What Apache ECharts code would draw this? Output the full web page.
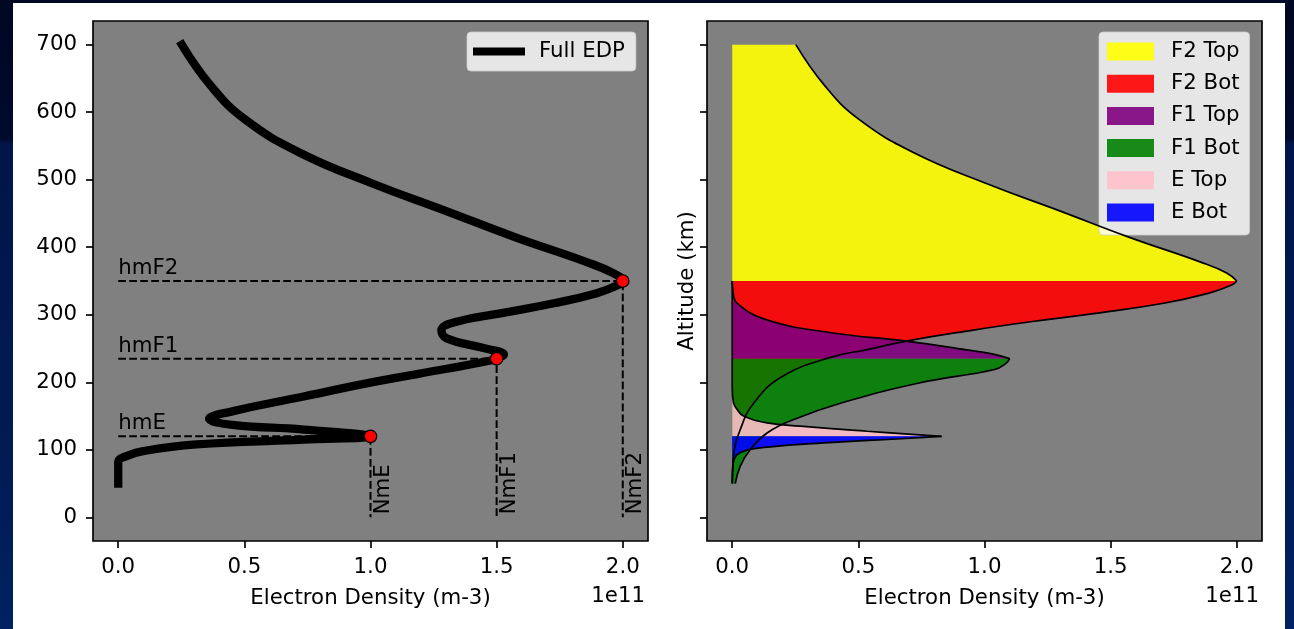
<!DOCTYPE html>
<html><head><meta charset="utf-8">
<script src="https://cdn.jsdelivr.net/npm/echarts@6/dist/echarts.min.js"></script>
<style>
html,body{margin:0;padding:0;width:1294px;height:629px;overflow:hidden;}
body{background:linear-gradient(to bottom,#000722 0%,#000a2c 22%,#00164a 23%,#001a52 70%,#002262 100%);}
#paper{position:absolute;left:13px;top:3px;width:1272px;height:626px;background:#fff;}
#chart{position:absolute;left:0;top:0;width:1294px;height:629px;}
</style></head><body><div id="paper"></div><div id="chart"></div>
<script>
// ---- data (density in units of 1e11 m-3, altitude in km) ----
const densityTicks = [0, 0.5, 1.0, 1.5, 2.0];
const altitudeTicks = [0, 100, 200, 300, 400, 500, 600, 700];
const peakLabels = ['E', 'F1', 'F2'];
const peakHeights = [120, 235, 350];
const peakDensities = [1.0, 1.5, 2.0];

const fullAlt = [50, 82, 90, 98, 108, 115, 120, 130, 137, 146, 157, 179, 201, 220, 233, 235, 241, 251, 265, 277, 290, 302, 317, 332, 344, 350, 362, 378, 415, 455, 494, 540, 590, 640, 700];
const fullNe  = [0, 0, 0.027, 0.098, 0.31, 0.735, 1.0, 0.735, 0.452, 0.36, 0.452, 0.735, 1.019, 1.302, 1.486, 1.5, 1.529, 1.444, 1.302, 1.281, 1.345, 1.515, 1.727, 1.897, 1.982, 2.0, 1.96, 1.857, 1.572, 1.29, 1.01, 0.72, 0.50, 0.365, 0.252];

const f2TopAlt = [350, 362, 378, 415, 455, 494, 540, 590, 640, 700];
const f2TopNe  = [2.0, 1.96, 1.857, 1.572, 1.29, 1.01, 0.72, 0.50, 0.365, 0.252];
const f2BotAlt = [50, 90, 130, 169, 209, 238, 248, 261, 277, 290, 302, 317, 332, 344, 350];
const f2BotNe  = [0, 0.005, 0.032, 0.085, 0.20, 0.40, 0.53, 0.69, 0.95, 1.19, 1.44, 1.71, 1.89, 1.98, 2.0];
const f1TopAlt = [235, 242, 248, 261, 273, 292, 317, 335, 350];
const f1TopNe  = [1.10, 1.03, 0.93, 0.69, 0.40, 0.14, 0.02, 0.003, 0];
const f1BotAlt = [50, 76, 100, 125, 145, 169, 199, 219, 228, 235];
const f1BotNe  = [0.012, 0.032, 0.071, 0.138, 0.244, 0.429, 0.741, 1.04, 1.085, 1.10];
const eTopAlt = [120, 127.5, 135, 140, 150, 160, 170, 190, 350];
const eTopNe  = [0.83, 0.535, 0.27, 0.138, 0.045, 0.019, 0.005, 0, 0];
const eBotAlt = [50, 80, 96, 104, 111, 116, 120];
const eBotNe  = [0, 0.004, 0.032, 0.14, 0.40, 0.65, 0.83];

const layerNames = ['F2 Top', 'F2 Bot', 'F1 Top', 'F1 Bot', 'E Top', 'E Bot'];
const layerColors = ['rgba(255,255,0,0.9)', 'rgba(255,0,0,0.9)', 'rgba(128,0,128,0.9)', 'rgba(0,128,0,0.9)', 'rgba(255,192,203,0.9)', 'rgba(0,0,255,0.9)'];
const layerAlts = [f2TopAlt, f2BotAlt, f1TopAlt, f1BotAlt, eTopAlt, eBotAlt];
const layerNes = [f2TopNe, f2BotNe, f1TopNe, f1BotNe, eTopNe, eBotNe];

// ---- chart ----
const FONT = 'DejaVu Sans';
const FS = 21.3;
const pairs = (alts, nes) => alts.map((a, i) => [nes[i], a]);

function xAx(g) {
  return {
    type: 'value', gridIndex: g, min: -0.1, max: 2.1,
    name: 'Electron Density (m-3)', nameLocation: 'middle', nameGap: 47,
    nameTextStyle: {fontFamily: FONT, fontSize: FS, color: '#000'},
    axisLine: {show: false, onZero: false}, splitLine: {show: false},
    axisTick: {show: true, length: 7, lineStyle: {color: '#000', width: 1.67}, customValues: densityTicks},
    axisLabel: {customValues: densityTicks, formatter: v => v.toFixed(1), margin: 16, fontFamily: FONT, fontSize: FS, color: '#000'}
  };
}
function yAx(g, labels) {
  return {
    type: 'value', gridIndex: g, min: -35, max: 735,
    axisLine: {show: false, onZero: false}, splitLine: {show: false},
    axisTick: {show: true, length: 7, lineStyle: {color: '#000', width: 1.67}, customValues: altitudeTicks},
    axisLabel: {show: labels, customValues: altitudeTicks, margin: 16, fontFamily: FONT, fontSize: FS, color: '#000'}
  };
}
const yRight = yAx(1, false);
yRight.name = 'Altitude (km)';
yRight.nameLocation = 'middle';
yRight.nameGap = 9;
yRight.nameTextStyle = {fontFamily: FONT, fontSize: FS, color: '#000'};

const series = [];
// left panel: guide lines
peakLabels.forEach((p, i) => {
  series.push({
    type: 'line', name: 'guide' + p, xAxisIndex: 0, yAxisIndex: 0, silent: true,
    data: [[0, peakHeights[i]], [peakDensities[i], peakHeights[i]], [peakDensities[i], 0]],
    showSymbol: false, symbol: 'none',
    lineStyle: {color: '#000', width: 2, type: [7.7, 3.3]}, z: 2
  });
});
series.push({
  type: 'line', name: 'Full EDP', xAxisIndex: 0, yAxisIndex: 0, color: '#000',
  data: pairs(fullAlt, fullNe), smooth: 0.45, showSymbol: false, symbol: 'none',
  lineStyle: {color: '#000', width: 8.3, cap: 'square', join: 'round'}, z: 3
});
series.push({
  type: 'scatter', name: 'peaks', xAxisIndex: 0, yAxisIndex: 0,
  data: peakDensities.map((d, i) => [d, peakHeights[i]]), symbolSize: 12.5,
  itemStyle: {color: '#ff0000', borderColor: '#000', borderWidth: 1.2, opacity: 1}, z: 5
});
series.push({
  type: 'custom', name: 'hmLabels', xAxisIndex: 0, yAxisIndex: 0, silent: true, z: 6,
  data: peakHeights.map(h => [0, h]),
  renderItem: (params, api) => {
    const pt = api.coord([api.value(0), api.value(1)]);
    return {type: 'text', x: pt[0], y: pt[1] - 2,
      style: {text: 'hm' + peakLabels[params.dataIndex], fontFamily: FONT, fontSize: FS, fill: '#000', textAlign: 'left', textVerticalAlign: 'bottom'}};
  }
});
series.push({
  type: 'custom', name: 'nmLabels', xAxisIndex: 0, yAxisIndex: 0, silent: true, z: 6,
  data: peakDensities.map(d => [d, 0]),
  renderItem: (params, api) => {
    const pt = api.coord([api.value(0), api.value(1)]);
    return {type: 'text', x: pt[0] + 2, y: pt[1] - 3, rotation: Math.PI / 2,
      style: {text: 'Nm' + peakLabels[params.dataIndex], fontFamily: FONT, fontSize: FS, fill: '#000', textAlign: 'left', textVerticalAlign: 'top'}};
  }
});
// right panel: filled layers (base axis is the hidden altitude axis, so fills go to density 0)
layerNames.forEach((n, i) => {
  series.push({
    type: 'line', name: n, xAxisIndex: 1, yAxisIndex: 2, color: layerColors[i],
    data: pairs(layerAlts[i], layerNes[i]), smooth: 0.45, showSymbol: false, symbol: 'none',
    itemStyle: {color: layerColors[i]},
    lineStyle: {width: 0, opacity: 0, color: layerColors[i]},
    areaStyle: {color: layerColors[i], opacity: 1, origin: 0}, z: 2, silent: true
  });
});
layerNames.forEach((n, i) => {
  series.push({
    type: 'line', name: n + ' outline', xAxisIndex: 1, yAxisIndex: 2,
    data: pairs(layerAlts[i], layerNes[i]), smooth: 0.45, showSymbol: false, symbol: 'none',
    lineStyle: {width: 1.7, color: '#000'}, z: 4, silent: true
  });
});

const legendCommon = {
  orient: 'vertical', icon: 'rect', backgroundColor: 'rgba(255,255,255,0.8)',
  borderColor: 'rgba(204,204,204,0.8)', borderWidth: 1, borderRadius: 4, selectedMode: false
};

const chart = echarts.init(document.getElementById('chart'), null, {renderer: 'canvas'});
chart.setOption({
  animation: false,
  backgroundColor: 'transparent',
  grid: [
    {left: 93, top: 21, width: 555, height: 520, show: true, backgroundColor: '#808080', borderColor: '#000', borderWidth: 1.67},
    {left: 707, top: 21, width: 555, height: 520, show: true, backgroundColor: '#808080', borderColor: '#000', borderWidth: 1.67}
  ],
  xAxis: [xAx(0), xAx(1)],
  yAxis: [yAx(0, true), yRight, {type: 'time', gridIndex: 1, min: -35, max: 735, show: false}],
  legend: [
    Object.assign({}, legendCommon, {
      data: ['Full EDP'], left: 467, top: 32, itemWidth: 52, itemHeight: 8,
      padding: [9, 11, 9, 6], textStyle: {fontFamily: FONT, fontSize: FS, color: '#000', padding: [0, 0, 0, 9]}
    }),
    Object.assign({}, legendCommon, {
      data: layerNames, left: 1099, top: 32, itemWidth: 47, itemHeight: 18, itemGap: 11.2,
      padding: [9, 10, 12, 8], textStyle: {fontFamily: FONT, fontSize: FS, color: '#000', padding: [0, 0, 0, 12]}
    })
  ],
  graphic: [
    {type: 'text', x: 645, y: 596, style: {text: '1e11', fontFamily: FONT, fontSize: FS, fill: '#000', textAlign: 'right', textVerticalAlign: 'middle'}},
    {type: 'text', x: 1259, y: 596, style: {text: '1e11', fontFamily: FONT, fontSize: FS, fill: '#000', textAlign: 'right', textVerticalAlign: 'middle'}}
  ],
  series: series
});
</script></body></html>
